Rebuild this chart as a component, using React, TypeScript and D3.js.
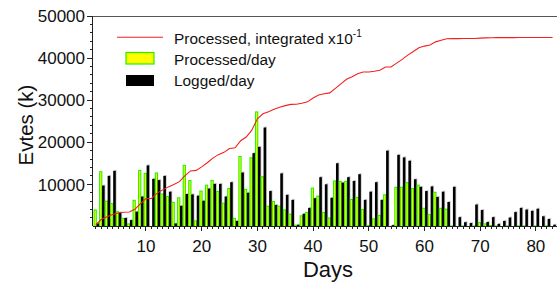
import * as d3 from "d3";

// values (k events)
const processedPerDay = [
  3900, 13000, 6000, 5400, 3500, 1900, 600, 6200, 13300, 12600,
  0, 12700, 7700, 7100, 5700, 6800, 14500, 10900, 1300, 8400,
  9800, 10900, 8300, 5500, 9000, 1900, 16600, 8800, 16300, 27200,
  11800, 4800, 5900, 4800, 3900, 2900, 300, 2500, 3300, 9100,
  7200, 3300, 2000, 10800, 10700, 10700, 6400, 6900, 4000, 200,
  1800, 2600, 7500, 0, 9300, 9300, 10400, 9000, 9800, 4300,
  2800, 8100, 4300, 4100, 100, 0, 100, 0, 100, 900,
  600, 200, 100, 0, 100, 0, 100, 100, 0, 100,
  0, 100, 0,
];

const loggedPerDay = [
  700, 9700, 12000, 13200, 3300, 2000, 1500, 3500, 7100, 14500,
  11300, 11000, 12000, 8250, 700, 4900, 7700, 7600, 7300, 6100,
  9000, 10100, 10100, 7100, 10500, 1300, 12800, 8000, 17400, 18900,
  23500, 8400, 5100, 12600, 7500, 6300, 400, 3000, 4400, 6700,
  11700, 10000, 6800, 15000, 10400, 11700, 10800, 12400, 6300, 8250,
  10500, 6300, 18000, 300, 17000, 16400, 15600, 11200, 9400, 8400,
  9500, 7000, 8250, 5800, 9400, 2200, 1000, 800, 5200, 3900,
  1050, 2200, 600, 1300, 2100, 3400, 4400, 4000, 3700, 4200,
  2400, 1750, 400,
];

// red curve, already scaled by 10^-1
const processedIntegrated = [
  390, 1690, 2290, 2830, 3180, 3370, 3430, 4050, 5380, 6640,
  6660, 7910, 8680, 9390, 9960, 10640, 12090, 13180, 13310, 14150,
  15130, 16220, 17050, 17600, 18500, 18690, 20350, 21230, 22860, 25580,
  26760, 27240, 27830, 28310, 28700, 28990, 29020, 29270, 29600, 30510,
  31230, 31530, 31730, 32810, 33880, 34950, 35590, 36280, 36680, 36690,
  36860, 37120, 37870, 37880, 38800, 39700, 40700, 41550, 42450, 42850,
  43100, 43850, 44250, 44600, 44620, 44630, 44640, 44650, 44660, 44750,
  44810, 44830, 44850, 44860, 44870, 44870, 44880, 44890, 44890, 44900,
  44900, 44900, 44900,
];

const days = processedPerDay.map((_, i) => i + 1);
const yTicks = [10000, 20000, 30000, 40000, 50000];
const xTicks = [10, 20, 30, 40, 50, 60, 70, 80];

const font = "'Liberation Sans', Arial, sans-serif";
const ink = "#111";
const green = "#22f000";

const W = 558;
const H = 285;
const left = 92.7;
const right = 557.3;
const top = 16;
const bottom = 226.4;

export default function App() {
  const x = d3.scaleLinear().domain([0.43, 83.85]).range([left, right]);
  const y = d3.scaleLinear().domain([0, 50000]).range([bottom, top]);

  const yMinor = d3.range(2000, 50000, 2000).filter((v) => v % 10000 !== 0);

  const line = d3
    .line<number>()
    .x((_, i) => x(days[i]))
    .y((d) => y(d));

  return (
    <svg
      width={W}
      height={H}
      style={{ position: "absolute", left: 0, top: 0, background: "#fff" }}
      fontFamily={font}
    >
      {/* bars */}
      {days.map((d, i) => {
        const c = x(d);
        const pv = processedPerDay[i];
        const lv = loggedPerDay[i];
        return (
          <g key={d}>
            {pv > 0 && (
              <rect
                x={c - 1.8}
                y={y(pv)}
                width={2.2}
                height={bottom - y(pv)}
                fill="#ffff00"
                stroke={green}
                strokeWidth={1.05}
              />
            )}
            {lv > 0 && (
              <>
                <rect
                  x={c + 1.4}
                  y={y(lv) - 1}
                  width={2.6}
                  height={bottom - y(lv) + 1}
                  fill="#c8c8c8"
                />
                <rect
                  x={c + 0.6}
                  y={y(lv)}
                  width={2.6}
                  height={bottom - y(lv)}
                  fill="#000"
                />
              </>
            )}
          </g>
        );
      })}

      {/* integrated line */}
      <path d={line(processedIntegrated) ?? ""} fill="none" stroke="#f22020" strokeWidth={1.1} />

      {/* frame */}
      <g stroke="#222" strokeWidth={1} shapeRendering="crispEdges">
        <line x1={left} x2={left} y1={top} y2={bottom} />
        <line x1={left} x2={right} y1={bottom} y2={bottom} />
        <line x1={left} x2={right} y1={top} y2={top} stroke="#555" />
        {yTicks.map((t) => (
          <line key={t} x1={left - 6} x2={left} y1={y(t)} y2={y(t)} />
        ))}
        {yMinor.map((t) => (
          <line key={t} x1={left - 3} x2={left} y1={y(t)} y2={y(t)} />
        ))}
        {days.map((d) => (
          <line
            key={d}
            x1={x(d)}
            x2={x(d)}
            y1={bottom}
            y2={bottom + (d % 10 === 0 ? 5 : 3)}
          />
        ))}
      </g>

      {/* tick labels */}
      {yTicks.map((t) => (
        <text key={t} x={85} y={y(t) + 6.2} textAnchor="end" fontSize={17} fill={ink}>
          {t}
        </text>
      ))}
      {xTicks.map((t) => (
        <text key={t} x={x(t)} y={251.5} textAnchor="middle" fontSize={17} fill={ink}>
          {t}
        </text>
      ))}

      {/* axis titles */}
      <text
        transform="translate(32.5,125) rotate(-90)"
        textAnchor="middle"
        fontSize={20.5}
        fill={ink}
      >
        Evtes (k)
      </text>
      <text x={328} y={277} textAnchor="middle" fontSize={22} fill={ink}>
        Days
      </text>

      {/* legend */}
      <line x1={117} x2={163} y1={37.3} y2={37.3} stroke="#f22020" strokeWidth={1.1} />
      <text x={174} y={43.5} fontSize={15.4} fill={ink}>
        Processed, integrated x10
        <tspan fontSize={10} dy={-6.5}>-1</tspan>
      </text>
      <rect x={126} y={52.5} width={28} height={11.5} fill="#ffff00" stroke={green} strokeWidth={1.2} />
      <text x={174} y={64.5} fontSize={15.4} fill={ink}>
        Processed/day
      </text>
      <rect x={126} y={75} width={28} height={11} fill="#000" />
      <text x={174} y={85.5} fontSize={15.4} fill={ink}>
        Logged/day
      </text>
    </svg>
  );
}
